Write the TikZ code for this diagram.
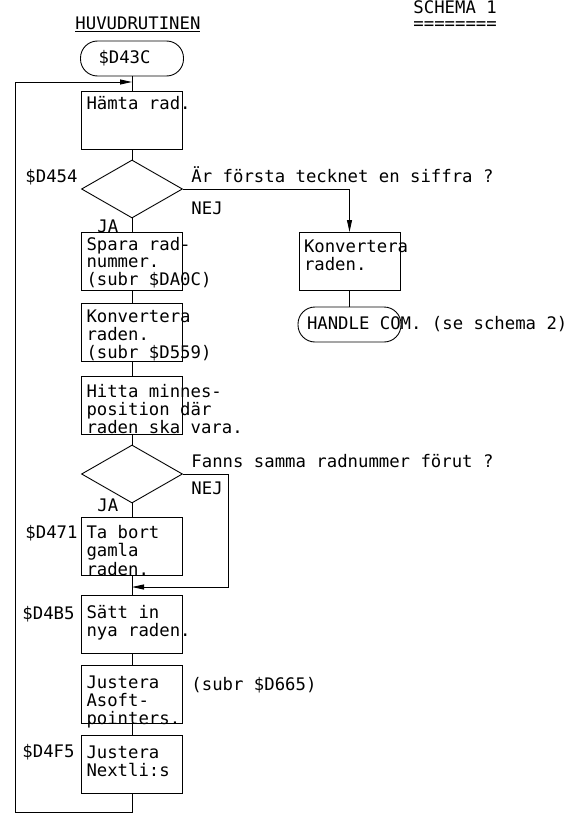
\documentclass[tikz,border=0pt]{standalone}
\usepackage{fontspec}
\setmainfont{DejaVu Sans Mono}
\usetikzlibrary{
    shapes.geometric,
    arrows.meta
}
\tikzset{
    >={Triangle[length=12pt,width=5pt]},
    rutin/.style={
        draw,
        inner xsep=5pt,
        inner ysep=0pt,
        text height=#1pt,
        text depth={(58-#1)*1pt},
        anchor=north
    },
    rutin/.default=18,
    slut/.style={
        draw,
        rounded corners=17pt,
        minimum width=103pt,
        minimum height=35pt,
        inner xsep=9pt,
        inner ysep=0pt
    },
    fraga/.style={
        draw,
        diamond,
        minimum width=101pt,
        minimum height=58pt,
        inner sep=0pt
    },
    etikett/.style={
        anchor=base west,
        inner sep=0pt
    }
}
\newcommand{\rader}[1]{\makebox[91pt][l]{\begin{tabular}[t]{@{}l@{}}#1\end{tabular}}}
\newcommand{\slutrad}[1]{\makebox[85pt][l]{#1}}

\begin{document}
\begin{tikzpicture}[
    x=1pt,
    y=-1pt,
    line width=0.9pt,
    font=\fontsize{17.3pt}{17pt}\selectfont
]
    \useasboundingbox (0,0) rectangle (575,816);

    % Rubriker
    \node[etikett] (rubrik) at (75,30) {\underline{HUVUDRUTINEN}};
    \node[etikett] (schema) at (413,14)
        {\begin{tabular}[t]{@{}l@{}}SCHEMA 1\\[-1pt]========\end{tabular}};

    % Huvudkedjan
    \node[slut]      (start)  at (132,58.5) {\slutrad{\hspace{9pt}\$D43C}};
    \node[rutin]     (hamta)  at (132,91)   {\rader{Hämta rad.}};
    \node[fraga]     (siffra) at (132,189)  {};
    \node[rutin]     (spara)  at (132,232)  {\rader{Spara rad-\\nummer.\\(subr \$DA0C)}};
    \node[rutin=19]  (konv1)  at (132,303)  {\rader{Konvertera\\raden.\\(subr \$D559)}};
    \node[rutin=21]  (hitta)  at (132,376)  {\rader{Hitta minnes-\\position där\\raden ska vara.}};
    \node[fraga]     (fanns)  at (132,474)  {};
    \node[rutin=21]  (tabort) at (132,517)  {\rader{Ta bort\\gamla\\raden.}};
    \node[rutin=23]  (satt)   at (132,595)  {\rader{Sätt in\\nya raden.}};
    \node[rutin=23]  (asoft)  at (132,665)  {\rader{Justera\\Asoft-\\pointers.}};
    \node[rutin=23]  (nextli) at (132,735)  {\rader{Justera\\Nextli:s}};

    % Sidogren
    \node[rutin=20]  (konv2)  at (349.5,232) {\rader{Konvertera\\raden.}};
    \node[slut]      (handle) at (349.5,324.5) {\slutrad{HANDLE COM. (se schema 2)}};

    % Texter
    \node[etikett] (a454) at (25,182)  {\$D454};
    \node[etikett] (q1)   at (191,182) {Är första tecknet en siffra ?};
    \node[etikett] (nej1) at (191,214) {NEJ};
    \node[etikett] (ja1)  at (97,232)  {JA};
    \node[etikett] (q2)   at (191,467) {Fanns samma radnummer förut ?};
    \node[etikett] (nej2) at (191,494) {NEJ};
    \node[etikett] (ja2)  at (97,511)  {JA};
    \node[etikett] (a471) at (25,538)  {\$D471};
    \node[etikett] (a4b5) at (22,619)  {\$D4B5};
    \node[etikett] (d665) at (191,690) {(subr \$D665)};
    \node[etikett] (a4f5) at (22,757)  {\$D4F5};

    % Hjalppunkter
    \coordinate (ingang) at (132,82);
    \coordinate (botten) at (15,812);
    \coordinate (hoger)  at (228,587);
    \coordinate (hopp)   at (132,587);

    % Linjer
    \draw (start.south) -- (hamta.north);
    \draw (hamta.south) -- (siffra.north);
    \draw (siffra.south) -- (spara.north);
    \draw (spara.south) -- (konv1.north);
    \draw (konv1.south) -- (hitta.north);
    \draw (hitta.south) -- (fanns.north);
    \draw (fanns.south) -- (tabort.north);
    \draw (tabort.south) -- (satt.north);
    \draw (satt.south) -- (asoft.north);
    \draw (asoft.south) -- (nextli.north);
    \draw (konv2.south) -- (handle.north);

    \draw[->] (siffra.east) -| (konv2.north);
    \draw[->] (fanns.east) -| (hoger) -- (hopp);
    \draw[->] (nextli.south) |- (botten) |- (ingang);

\end{tikzpicture}
\end{document}
